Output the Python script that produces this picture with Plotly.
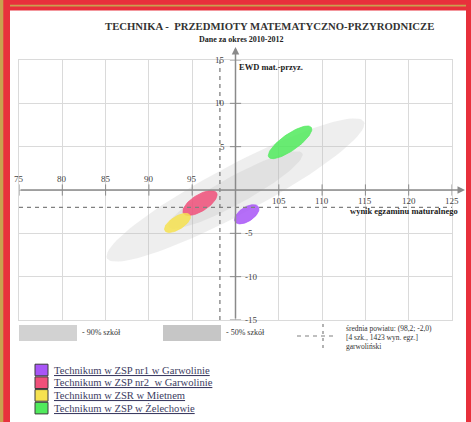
import numpy as np
import plotly.graph_objects as go

# ---------------- data ----------------
title = "TECHNIKA -  PRZEDMIOTY MATEMATYCZNO-PRZYRODNICZE"
subtitle = "Dane za okres 2010-2012"
x_title = "wynik egzaminu maturalnego"
y_title = "EWD mat.-przyz."

x_ticks = [75, 80, 85, 90, 95, 100, 105, 110, 115, 120, 125]
y_ticks = [-15, -10, -5, 0, 5, 10, 15]

mean_x = 98.2
mean_y = -2.0
mean_text = ["średnia powiatu: (98,2; -2,0)", "[4 szk., 1423 wyn. egz.]", "garwoliński"]

band_labels = ["- 90% szkół", "- 50% szkół"]
band_cx = [100.0, 100.0]
band_cy = [0.0, 0.0]
band_a = [16.8, 8.8]
band_b = [2.8, 1.6]
band_angle = [28.0, 28.8]

schools = ["Technikum w ZSP nr1 w Garwolinie",
           "Technikum w ZSP nr2  w Garwolinie",
           "Technikum w ZSR w Mietnem",
           "Technikum w ZSP w Żelechowie"]
school_x = [101.3, 95.9, 93.3, 106.3]
school_y = [-2.8, -1.5, -3.8, 5.5]
school_a = [1.6, 2.25, 1.7, 3.0]
school_b = [0.82, 0.95, 0.75, 0.95]
school_angle = [33.0, 32.0, 32.0, 35.0]
school_colors = ["rgba(168,85,247,0.85)", "rgba(240,80,122,0.85)",
                 "rgba(246,226,80,0.85)", "rgba(80,234,92,0.85)"]
school_swatch = ["#a855f7", "#f0507a", "#f6e250", "#50ea5c"]

# ---------------- layout geometry ----------------
W, H = 471, 422
ML, MR, MT, MB = 19, 19, 60, 102
PW, PH = W - ML - MR, H - MT - MB
SERIF = "Liberation Serif"


def pxx(x):
    return (x - ML) / PW


def pxy(y):
    return (H - MB - y) / PH


def ellipse(cx, cy, a, b, ang):
    t = np.linspace(0, 2 * np.pi, 91)
    th = np.deg2rad(ang)
    x = cx + a * np.cos(t) * np.cos(th) - b * np.sin(t) * np.sin(th)
    y = cy + a * np.cos(t) * np.sin(th) + b * np.sin(t) * np.cos(th)
    return x, y


def label(x, y, text, size, color="#333", xanchor="center"):
    return dict(xref="paper", yref="paper", x=pxx(x), y=pxy(y), text=text, showarrow=False,
                xanchor=xanchor, yanchor="middle", font=dict(family=SERIF, size=size, color=color))


fig = go.Figure()

# bands (90% / 50%)
for i in range(len(band_labels)):
    ex, ey = ellipse(band_cx[i], band_cy[i], band_a[i], band_b[i], band_angle[i])
    fig.add_trace(go.Scatter(x=ex, y=ey, mode="lines", fill="toself",
                             fillcolor="rgba(185,185,185,0.24)",
                             line=dict(width=0), hoverinfo="skip", showlegend=False))

# schools
for i in range(len(schools)):
    ex, ey = ellipse(school_x[i], school_y[i], school_a[i], school_b[i], school_angle[i])
    fig.add_trace(go.Scatter(x=ex, y=ey, mode="lines", fill="toself",
                             fillcolor=school_colors[i],
                             line=dict(width=0.8, color=school_colors[i]),
                             name=schools[i], showlegend=False))

# tick marks on axes
xt = [v for v in x_ticks if v != 100]
yt = [v for v in y_ticks if v != 0]
fig.add_trace(go.Scatter(x=xt, y=[0] * len(xt), mode="markers", cliponaxis=False,
                         marker=dict(symbol="line-ns", size=8, line=dict(width=1, color="#8a8a8a")),
                         hoverinfo="skip", showlegend=False))
fig.add_trace(go.Scatter(x=[100] * len(yt), y=yt, mode="markers", cliponaxis=False,
                         marker=dict(symbol="line-ew", size=8, line=dict(width=1, color="#8a8a8a")),
                         hoverinfo="skip", showlegend=False))

shapes = []
ann = []

# mean dashed lines
shapes.append(dict(type="line", xref="x", yref="y", x0=mean_x, x1=mean_x, y0=-15, y1=15,
                   line=dict(color="#808080", width=1.3, dash="4px,4px")))
shapes.append(dict(type="line", xref="x", yref="y", x0=75, x1=125, y0=mean_y, y1=mean_y,
                   line=dict(color="#808080", width=1.3, dash="4px,4px")))

# axes with arrows (pixel geometry of the frame)
x0_px = ML
y0_px = MT + PH / 2.0
xc_px = ML + PW / 2.0
ann.append(dict(xref="paper", yref="paper", x=pxx(465), y=pxy(y0_px), ax=-(465 - x0_px), ay=0,
                text="", showarrow=True, arrowhead=2, arrowsize=1, arrowwidth=1.5,
                arrowcolor="#8a8a8a", standoff=0))
ann.append(dict(xref="paper", yref="paper", x=pxx(xc_px), y=pxy(47), ax=0, ay=(H - MB) - 47,
                text="", showarrow=True, arrowhead=2, arrowsize=1, arrowwidth=1.5,
                arrowcolor="#8a8a8a", standoff=0))

# tick labels
tick_font = dict(family=SERIF, size=9, color="#444444")
for v in x_ticks:
    if v == 100:
        continue
    ann.append(dict(xref="x", yref="y", x=v, y=0, text=str(v), showarrow=False,
                    font=tick_font, yanchor="middle", yshift=(11 if v < 100 else -11)))
for v in y_ticks:
    if v == 0:
        continue
    if v > 0:
        ann.append(dict(xref="x", yref="y", x=100, y=v, text=str(v), showarrow=False,
                        font=tick_font, xanchor="right", yanchor="middle", xshift=-9))
    else:
        ann.append(dict(xref="x", yref="y", x=100, y=v, text=str(v), showarrow=False,
                        font=tick_font, xanchor="left", yanchor="middle", xshift=7))

# axis titles
ann.append(label(237, 67, "<b>" + y_title + "</b>", 8.5, "#222", "left"))
ann.append(label(460, 211, "<b>" + x_title + "</b>", 8.5, "#222", "right"))

# title / subtitle
ann.append(label(269, 26, "<b>" + title + "</b>", 10.7, "#333"))
ann.append(label(241, 39, "<b>" + subtitle + "</b>", 8, "#222"))

# legend row 1: bands
band_sw = [(19, 77, "#d2d2d2", 80), (163, 221, "#c6c6c6", 224)]
for i, (l, r, c, tx) in enumerate(band_sw):
    shapes.append(dict(type="rect", xref="paper", yref="paper", x0=pxx(l), x1=pxx(r),
                       y0=pxy(341), y1=pxy(325), fillcolor=c, line=dict(width=0)))
    ann.append(label(tx, 332, band_labels[i], 8, "#333", "left"))
# mean legend
shapes.append(dict(type="line", xref="paper", yref="paper", x0=pxx(297), x1=pxx(337),
                   y0=pxy(336), y1=pxy(336), line=dict(color="#808080", width=1.2, dash="4px,4px")))
shapes.append(dict(type="line", xref="paper", yref="paper", x0=pxx(323), x1=pxx(323),
                   y0=pxy(324), y1=pxy(348), line=dict(color="#808080", width=1.2, dash="3px,4px")))
for j, t in enumerate(mean_text):
    ann.append(label(344, 328 + 9 * j, t, 7.5, "#333", "left"))

# legend 2: schools
for i, s in enumerate(schools):
    yc = 370 + 12.7 * i
    shapes.append(dict(type="rect", xref="paper", yref="paper", x0=pxx(35), x1=pxx(48),
                       y0=pxy(yc + 5.8), y1=pxy(yc - 5.8), fillcolor=school_swatch[i],
                       line=dict(width=1, color="#3a3a3a")))
    ann.append(label(52, yc, '<span style="text-decoration:underline">' + s + '</span>',
                     10.6, "#3c3c62", "left"))

# decorative frame
shapes.append(dict(type="rect", xref="paper", yref="paper", x0=pxx(0), x1=pxx(471),
                   y0=pxy(0), y1=pxy(10.5), fillcolor="#e8303c", line=dict(width=0)))
shapes.append(dict(type="rect", xref="paper", yref="paper", x0=pxx(0), x1=pxx(471),
                   y0=pxy(4.7), y1=pxy(6.5), fillcolor="#c9a050", line=dict(width=0)))
shapes.append(dict(type="rect", xref="paper", yref="paper", x0=pxx(0), x1=pxx(10),
                   y0=pxy(0), y1=pxy(422), fillcolor="#e8303c", line=dict(width=0)))
shapes.append(dict(type="rect", xref="paper", yref="paper", x0=pxx(0), x1=pxx(3.3),
                   y0=pxy(0), y1=pxy(422), fillcolor="#c9a050", line=dict(width=0)))
shapes.append(dict(type="rect", xref="paper", yref="paper", x0=pxx(466), x1=pxx(471),
                   y0=pxy(0), y1=pxy(422), fillcolor="#e8303c", line=dict(width=0)))

fig.update_layout(
    width=W, height=H,
    margin=dict(l=ML, r=MR, t=MT, b=MB, pad=0),
    paper_bgcolor="white", plot_bgcolor="white",
    showlegend=False,
    shapes=shapes, annotations=ann,
    xaxis=dict(range=[75, 125], dtick=5, tick0=75, showgrid=True, gridcolor="#dadada", gridwidth=1,
               zeroline=False, showticklabels=False, ticks="", showline=True, mirror=True,
               linecolor="#dadada", linewidth=1, fixedrange=True),
    yaxis=dict(range=[-15, 15], dtick=5, tick0=-15, showgrid=True, gridcolor="#dadada", gridwidth=1,
               zeroline=False, showticklabels=False, ticks="", showline=True, mirror=True,
               linecolor="#dadada", linewidth=1, fixedrange=True),
)

fig.write_html("out.html", config={"displayModeBar": False},
               post_script="document.body.style.margin='0';document.body.style.overflow='hidden';")
